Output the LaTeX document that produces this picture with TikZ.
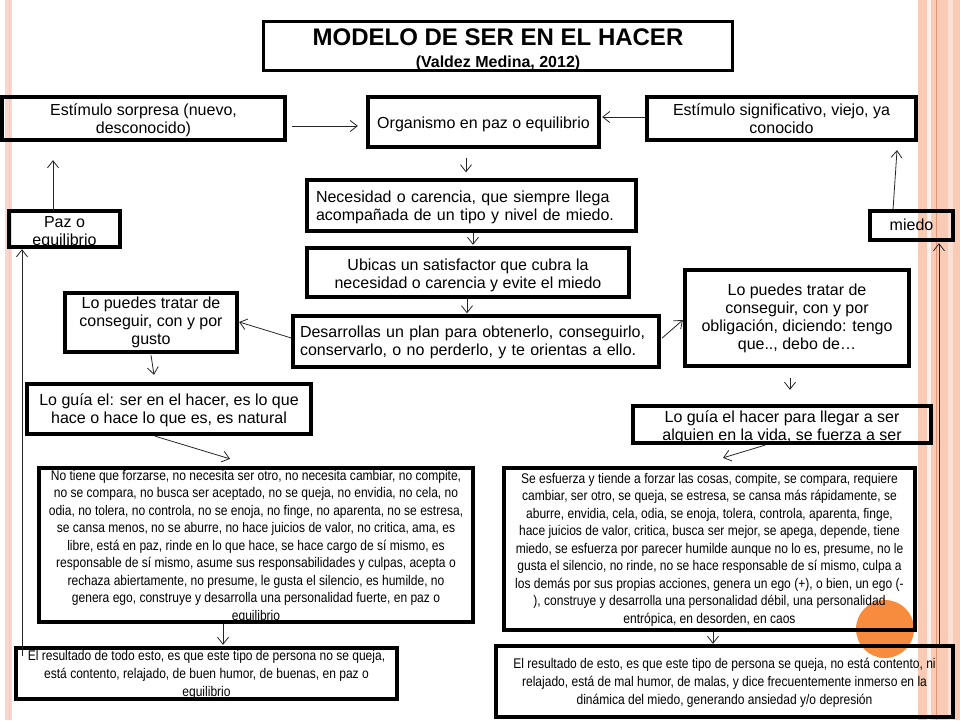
\documentclass[tikz,border=0pt]{standalone}
\usepackage{fontspec}
\setmainfont{Liberation Sans}
\newfontfamily\narrowfont{Liberation Sans}[FakeStretch=0.86]
\usetikzlibrary{arrows.meta,calc}
\definecolor{salmon}{RGB}{249,203,181}
\definecolor{salmonlight}{RGB}{252,224,212}
\definecolor{salmondark}{RGB}{226,150,120}
\definecolor{pinkleft}{RGB}{250,214,204}
\definecolor{orangedot}{RGB}{247,140,62}
\newcommand\tb[1]{\rule{0pt}{#1pt}}
\newcommand\db[1]{\rule[-#1pt]{0pt}{#1pt}}
\begin{document}
\begin{tikzpicture}[x=1pt,y=-1pt,
  box/.style={draw, line width=3.3pt, inner xsep=0pt, inner ysep=-10pt, align=center, font=\fontsize{16}{18}\selectfont},
  nbox/.style={box, font=\narrowfont\fontsize{14}{17.5}\selectfont},
  arr/.style={draw=black!85, line width=0.8pt, -{Straight Barb[length=7pt,width=11pt]}}]
\useasboundingbox (0,0) rectangle (960,720);
\fill[white] (0,0) rectangle (960,720);
% decorations
\fill[pinkleft] (5,0) rectangle (12,720);
\draw[salmon, line width=1pt] (9,0) -- (9,720);
\fill[salmon] (918,0) rectangle (960,720);
\fill[white!70!salmon] (927,0) rectangle (931,720);
\fill[salmonlight] (948,0) rectangle (953,720);
\draw[salmondark, line width=0.8pt] (936.5,0) -- (936.5,720);
\fill[orangedot] (885,629) circle (29);
% title
\node[box, font=\bfseries\fontsize{24}{22}\selectfont, minimum width=469pt, minimum height=49pt] (title) at (498,46)
  {\tb{26}MODELO DE SER EN EL HACER\\{\fontsize{16}{22}\selectfont (Valdez Medina, 2012)\db{6}}};
% nodes
\node[box, minimum width=283pt, minimum height=43pt] (sorp) at (143.5,118.5) {\tb{17}Estímulo sorpresa (nuevo,\\desconocido)\db{6}};
\node[box, minimum width=231pt, minimum height=50pt] (org) at (483.5,122) {\tb{18}Organismo en paz o equilibrio\db{6}};
\node[box, minimum width=269pt, minimum height=43pt] (sig) at (781.5,118.5) {\tb{17}Estímulo significativo, viejo, ya\\conocido\db{6}};
\node[box, align=left, text width=311pt, minimum width=329pt, minimum height=51pt] (nec) at (471.5,205.5) {\tb{17}Necesidad o carencia, que siempre llega\\acompañada de un tipo y nivel de miedo.\db{6}};
\node[box, minimum width=322pt, minimum height=49pt] (ubi) at (468,272.5) {\tb{19}Ubicas un satisfactor que  cubra la\\necesidad o carencia y evite el miedo\db{6}};
\node[box, align=left, text width=352pt, minimum width=366pt, minimum height=51pt] (des) at (476,341.5) {\tb{15}Desarrollas un plan para obtenerlo, conseguirlo,\\conservarlo, o no perderlo, y te orientas a ello.\db{6}};
\node[box, minimum width=172pt, minimum height=59pt] (gus) at (151,322.5) {\tb{13}Lo puedes tratar  de\\conseguir,  con y por\\gusto\db{6}};
\node[box, minimum width=284pt, minimum height=50pt] (gl) at (169,409) {\tb{16}Lo guía el: ser en el hacer, es lo que\\hace o hace lo que es, es natural\db{6}};
\node[nbox, minimum width=434pt, minimum height=154pt] (bl) at (256,545) {\tb{17}No tiene que forzarse, no necesita ser otro, no necesita cambiar, no compite,\\no se compara, no busca ser aceptado, no se queja, no envidia, no cela, no\\odia, no tolera, no controla, no se enoja, no finge, no aparenta, no se estresa,\\se cansa menos, no se aburre, no hace juicios de valor, no critica, ama, es\\libre, está en paz, rinde en lo que hace, se hace cargo de sí mismo, es\\responsable de sí mismo, asume sus responsabilidades y culpas, acepta o\\rechaza abiertamente, no presume, le gusta el silencio, es humilde, no\\genera ego, construye y  desarrolla una personalidad fuerte,  en paz o\\equilibrio\db{7}};
\node[nbox, font=\narrowfont\fontsize{14}{18}\selectfont, minimum width=381pt, minimum height=51pt] (rl) at (206.5,673.5) {\tb{15}El resultado de todo esto, es que este tipo de persona no se queja,\\está contento, relajado, de buen humor, de buenas, en paz o\\equilibrio\db{6}};
\node[box, minimum width=224pt, minimum height=96pt] (obl) at (797,318) {\tb{14}Lo puedes tratar  de\\conseguir,  con y por\\obligación, diciendo: tengo\\que.., debo de…\db{6}};
\node[box, minimum width=298pt, minimum height=37pt] (gr) at (782,424.5) {\tb{19}Lo guía el hacer para llegar a ser\\alguien en la vida, se fuerza a ser\db{6}};
\node[nbox, minimum width=411pt, minimum height=162pt] (br) at (709.5,549) {\tb{14}Se esfuerza y  tiende a forzar las cosas, compite, se compara, requiere\\cambiar, ser otro,  se queja, se estresa, se cansa más rápidamente, se\\aburre, envidia, cela, odia, se enoja, tolera, controla, aparenta, finge,\\hace juicios de valor, critica,   busca ser mejor, se apega, depende, tiene\\miedo, se esfuerza por parecer humilde aunque no lo es,  presume, no le\\gusta el silencio, no rinde, no se hace responsable de sí mismo, culpa a\\los demás por sus propias acciones, genera un ego (+),  o bien, un ego (-\\), construye y  desarrolla una personalidad débil, una personalidad\\entrópica, en desorden, en caos\db{6}};
\node[nbox, font=\narrowfont\fontsize{14}{18}\selectfont, minimum width=457pt, minimum height=71pt] (rr) at (724.5,681.5) {\tb{15}El resultado de esto,  es que este tipo de persona se queja, no está contento, ni\\relajado, está de mal humor, de malas, y  dice frecuentemente inmerso en la\\dinámica del miedo, generando ansiedad y/o depresión\db{6}};
\node[box, minimum width=111pt, minimum height=36pt] (paz) at (64.5,229) {\tb{20}Paz o\\equilibrio\db{6}};
\node[box, minimum width=83pt, minimum height=29pt] (mie) at (911.5,225.5) {\tb{15}miedo\db{6}};
% arrows
\draw[arr] ($(sorp.east)+(5.5,7.5)$) -- ($(org.west)+(-8.5,4)$);
\draw[arr] ($(sig.west)+(0,-1.5)$) -- ($(org.east)+(1.5,-5)$);
\draw[arr] ($(org.south)+(-17.5,9.5)$) -- ($(nec.north)+(-5.5,-6)$);
\draw[arr] ($(nec.south)+(1.5,0.5)$) -- ($(ubi.north)+(5,-1.5)$);
\draw[arr] ($(ubi.south)+(-1,0)$) -- ($(des.north)+(-9,-1)$);
\draw[arr] ($(des.west)+(0,-3.5)$) -- ($(gus.east)+(0.5,-0.5)$);
\draw[arr] ($(gus.south)+(0,1.5)$) -- ($(gl.north)+(-15,-7.5)$);
\draw[arr] ($(gl.south)+(-14,0.5)$) -- ($(bl.north)+(-26,-7.5)$);
\draw[arr] ($(bl.south)+(-33,0.5)$) -- ($(rl.north)+(16.5,-1.5)$);
\draw[arr] ($(rl.north)+(-184.5,10)$) -- ($(paz.south)+(-42.5,0.5)$);
\draw[arr] ($(paz.north)+(-11.5,0.5)$) -- ($(sorp.south)+(-90.5,18.5)$);
\draw[arr] ($(des.east)+(1.5,-3.5)$) -- ($(obl.west)+(-0.5,2)$);
\draw[arr] ($(obl.south)+(-7,10.5)$) -- ($(gr.north)+(8,-14.5)$);
\draw[arr] ($(gr.south)+(-17,0.5)$) -- ($(br.north)+(13.5,-8.5)$);
\draw[arr] ($(br.south)+(3.5,0)$) -- ($(rr.north)+(-11.5,-0.5)$);
\draw[arr] ($(rr.north)+(214.5,0.5)$) -- ($(mie.south)+(27.5,1.5)$);
\draw[arr] ($(mie.north)+(-18.5,0.5)$) -- ($(sig.south)+(115.5,8.5)$);
\end{tikzpicture}
\end{document}
